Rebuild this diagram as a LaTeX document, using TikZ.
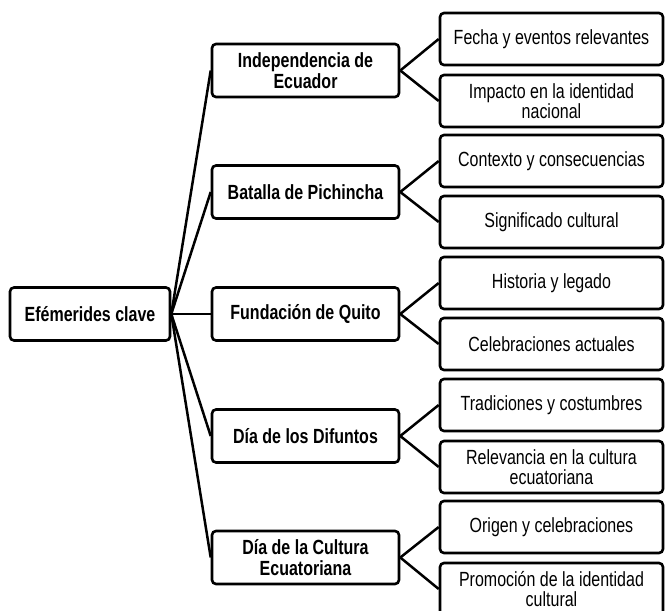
\documentclass[tikz,border=0pt]{standalone}
\usepackage{fontspec}
\setmainfont{Liberation Sans}[FakeStretch=0.78]
\begin{document}
\begin{tikzpicture}[x=1pt,y=-1pt,
  box/.style={draw=black, line width=2.6pt, rounded corners=4pt, fill=white,
    align=center, inner sep=2pt, font=\fontsize{20.5}{20.5}\selectfont},
  rootbox/.style={box, minimum width=160pt, minimum height=53pt, font=\fontsize{20.5}{20.5}\selectfont\bfseries},
  topicbox/.style={box, minimum width=187pt, minimum height=53pt, font=\fontsize{20.5}{20.5}\selectfont\bfseries},
  leafbox/.style={box, minimum width=223pt, minimum height=52pt},
  link/.style={draw=black, line width=2.5pt}]
\useasboundingbox (0,0) rectangle (670,611);

% root
\node[rootbox] (root) at (90,314) {Efémerides clave};

% topics
\node[topicbox] (t1) at (305.5,70.5) {Independencia de\\Ecuador};
\node[topicbox] (t2) at (305.5,192) {Batalla de Pichincha};
\node[topicbox] (t3) at (305.5,314) {Fundación de Quito};
\node[topicbox] (t4) at (305.5,436) {Día de los Difuntos};
\node[topicbox] (t5) at (305.5,557.5) {Día de la Cultura\\Ecuatoriana};

% details
\node[leafbox] (l1a) at (551.5,39)  {Fecha y eventos relevantes};
\node[leafbox] (l1b) at (551.5,101) {Impacto en la identidad\\nacional};
\node[leafbox] (l2a) at (551.5,161) {Contexto y consecuencias};
\node[leafbox] (l2b) at (551.5,222) {Significado cultural};
\node[leafbox] (l3a) at (551.5,283) {Historia y legado};
\node[leafbox] (l3b) at (551.5,344) {Celebraciones actuales};
\node[leafbox] (l4a) at (551.5,405) {Tradiciones y costumbres};
\node[leafbox] (l4b) at (551.5,467) {Relevancia en la cultura\\ecuatoriana};
\node[leafbox] (l5a) at (551.5,527) {Origen y celebraciones};
\node[leafbox] (l5b) at (551.5,589) {Promoción de la identidad\\cultural};

% connectors
\foreach \t in {t1,t2,t3,t4,t5}
  \draw[link] (root.east) -- (\t.west);
\foreach \t in {1,2,3,4,5}{
  \draw[link] (t\t.east) -- (l\t a.west);
  \draw[link] (t\t.east) -- (l\t b.west);
}
\end{tikzpicture}
\end{document}
